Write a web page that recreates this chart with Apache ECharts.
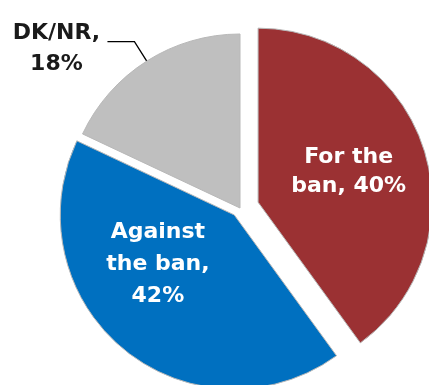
<!DOCTYPE html>
<html>
<head>
<meta charset="utf-8">
<script src="https://cdn.jsdelivr.net/npm/echarts@6/dist/echarts.min.js"></script>
<style>
  html, body { margin: 0; padding: 0; background: #fff; }
  #chart { width: 429px; height: 385px; }
</style>
</head>
<body>
<div id="chart"></div>
<script>
// slices, clockwise from 12 o'clock
const categories = ['For the ban', 'Against the ban', 'DK/NR'];
const shares = [40, 42, 18];

const colors = ['#9b3133', '#0070c0', '#bfbfbf'];
const explode = [19, 9, 0];
const labelText = ['For the\nban, 40%', 'Against\nthe ban,\n42%', '{c|DK/NR,}\n{c|18%}'];

let myChart = echarts.init(document.getElementById('chart'));

const hidden = {
  itemStyle: { color: 'rgba(0,0,0,0)', borderWidth: 0 },
  label: { show: false },
  labelLine: { show: false }
};

function sliceSeries(k) {
  return {
    type: 'pie',
    center: [240, 208],
    radius: 174,
    startAngle: 90,
    clockwise: true,
    silent: true,
    animation: false,
    avoidLabelOverlap: false,
    selectedMode: 'multiple',
    selectedOffset: explode[k],
    emphasis: { disabled: true },
    itemStyle: { borderColor: '#b8b8b8', borderWidth: 1 },
    select: { itemStyle: { borderColor: '#b8b8b8', borderWidth: 1 } },
    label: {
      fontFamily: 'DejaVu Sans',
      fontWeight: 'bold',
      fontSize: 22
    },
    data: categories.map((name, i) => {
      if (i !== k) return Object.assign({ name: name, value: shares[i] }, hidden);
      return {
        name: name,
        value: shares[i],
        selected: explode[i] > 0,
        itemStyle: { color: colors[i] },
        select: { itemStyle: { color: colors[i] } },
        label: i < 2 ? {
          show: true,
          position: 'inside',
          align: 'center',
          color: '#fff',
          lineHeight: i === 0 ? 29 : 32,
          formatter: labelText[i]
        } : {
          show: true,
          position: 'outside',
          color: '#1a1a1a',
          distanceToLabelLine: 5,
          padding: [14, 0, 0, 0],
          formatter: labelText[i],
          rich: {
            c: {
              width: 92,
              align: 'center',
              lineHeight: 31,
              fontFamily: 'DejaVu Sans',
              fontWeight: 'bold',
              fontSize: 22,
              color: '#1a1a1a'
            }
          }
        },
        labelLine: i < 2 ? { show: false } : {
          show: true,
          length: 23,
          length2: 27,
          lineStyle: { color: '#000', width: 1.3 }
        }
      };
    }),
    labelLayout: k === 0 ? { dx: 5, dy: -3 } : k === 1 ? { dx: -19, dy: -20 } : null
  };
}

myChart.setOption({
  backgroundColor: '#fff',
  animation: false,
  series: [sliceSeries(0), sliceSeries(1), sliceSeries(2)]
});
</script>
</body>
</html>
